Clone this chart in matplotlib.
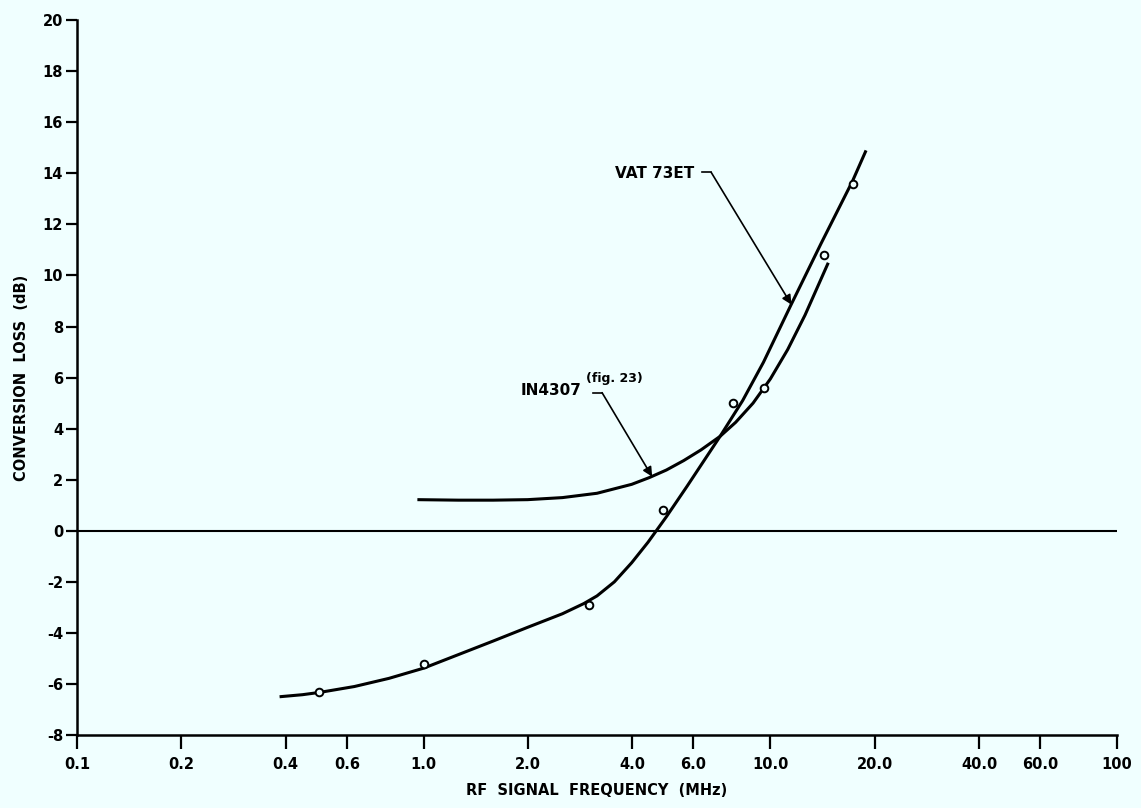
import numpy as np
import matplotlib
matplotlib.use('Agg')
import matplotlib.pyplot as plt

# values
vat_freq = [0.384, 0.447, 0.501, 0.631, 0.794, 1.0, 1.259, 1.585, 1.995, 2.512, 2.897, 3.162, 3.548,
            3.981, 4.436, 5.012, 5.754, 7.161, 8.318, 9.55, 11.48, 14.0, 17.26, 18.88]
vat_loss = [-6.5, -6.42, -6.33, -6.1, -5.78, -5.38, -4.85, -4.32, -3.78, -3.25, -2.85, -2.55, -2.0,
            -1.25, -0.45, 0.55, 1.75, 3.7, 5.1, 6.6, 8.86, 11.25, 13.7, 14.9]

in_freq = [0.959, 1.259, 1.585, 1.995, 2.512, 3.162, 3.981, 4.467, 5.012, 5.623, 6.31, 7.161,
           7.943, 8.913, 10.0, 11.22, 12.59, 14.69]
in_loss = [1.22, 1.2, 1.2, 1.22, 1.3, 1.47, 1.82, 2.08, 2.38, 2.75, 3.17, 3.7,
           4.25, 5.0, 5.95, 7.1, 8.45, 10.5]

meas_freq = [0.5, 1.0, 3.0, 4.9, 7.8, 9.6, 14.3, 17.3]
meas_loss = [-6.3, -5.2, -2.9, 0.8, 5.0, 5.6, 10.8, 13.6]

xticks = [0.1, 0.2, 0.4, 0.6, 1.0, 2.0, 4.0, 6.0, 10.0, 20.0, 40.0, 60.0, 100.0]
xticklabels = ['0.1', '0.2', '0.4', '0.6', '1.0', '2.0', '4.0', '6.0', '10.0', '20.0', '40.0', '60.0', '100']
yticks = list(range(-8, 21, 2))

bg = '#f0ffff'
fig = plt.figure(figsize=(11.41, 8.08), dpi=100, facecolor=bg)
ax = fig.add_axes([0.0675, 0.0903, 0.9115, 0.8847], facecolor=bg)

ax.set_xscale('log')
ax.set_xlim(0.1, 100)
ax.set_ylim(-8, 20)

ax.axhline(0, color='black', lw=1.5, zorder=1)
ax.plot(vat_freq, vat_loss, color='black', lw=2.2, solid_capstyle='butt')
ax.plot(in_freq, in_loss, color='black', lw=2.2, solid_capstyle='butt')
ax.plot(meas_freq, meas_loss, 'o', ms=5.5, mfc=bg, mec='black', mew=1.4, zorder=3)

tickfont = dict(family='DejaVu Sans', weight='bold', size=10.5)
ax.set_xticks(xticks)
ax.set_xticklabels(xticklabels, fontdict=tickfont)
ax.xaxis.set_minor_locator(matplotlib.ticker.NullLocator())
ax.set_yticks(yticks)
ax.set_yticklabels([str(v) for v in yticks], fontdict=tickfont)
ax.tick_params(axis='x', direction='out', length=10, width=1.6, pad=6)
ax.tick_params(axis='y', direction='out', length=8, width=1.6, pad=2)

for s in ['top', 'right']:
    ax.spines[s].set_visible(False)
for s in ['left', 'bottom']:
    ax.spines[s].set_linewidth(1.8)

labfont = dict(family='DejaVu Sans', weight='bold', size=10.5)
ax.set_xlabel('RF  SIGNAL  FREQUENCY  (MHz)', fontdict=labfont, labelpad=8)
ax.set_ylabel('CONVERSION  LOSS  (dB)', fontdict=labfont, labelpad=10)

# curve labels with leader arrows
ax.text(4.65, 14.0, 'VAT 73ET', fontdict=dict(family='DejaVu Sans', weight='bold', size=11), ha='center', va='center')
ax.plot([6.36, 6.75], [14.04, 14.04], color='black', lw=1.2)
ax.annotate('', xy=(11.5, 8.86), xytext=(6.75, 14.04),
            arrowprops=dict(arrowstyle='-|>', color='black', lw=1.2, mutation_scale=14, shrinkA=0, shrinkB=0))

ax.text(2.86, 5.5, 'IN4307', fontdict=dict(family='DejaVu Sans', weight='bold', size=11), ha='right', va='center')
ax.text(2.94, 5.95, '(fig. 23)', fontdict=dict(family='DejaVu Sans', weight='bold', size=9), ha='left', va='center')
ax.plot([3.08, 3.27], [5.41, 5.41], color='black', lw=1.2)
ax.annotate('', xy=(4.56, 2.12), xytext=(3.27, 5.41),
            arrowprops=dict(arrowstyle='-|>', color='black', lw=1.2, mutation_scale=14, shrinkA=0, shrinkB=0))

plt.savefig('out.png', dpi=100, facecolor=bg)
